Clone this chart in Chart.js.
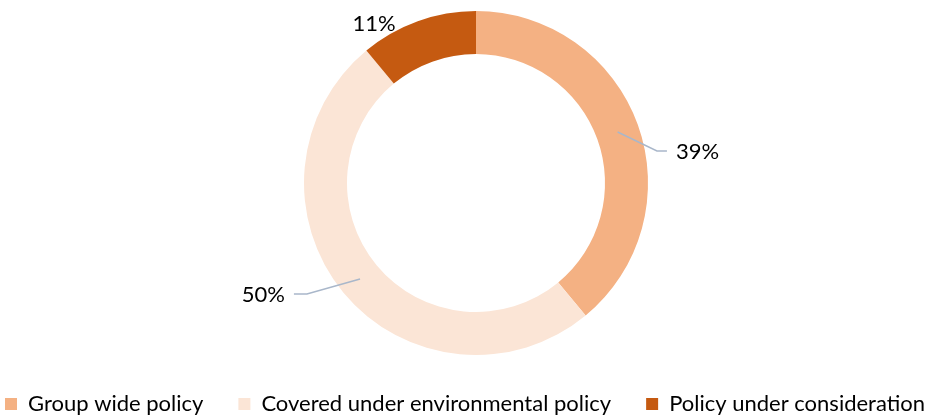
<!DOCTYPE html>
<html>
<head>
<meta charset="utf-8">
<script src="https://cdn.jsdelivr.net/npm/chart.js@4"></script>
<style>
  html, body { margin: 0; padding: 0; background: #fff; }
  #wrap { width: 930px; height: 418px; }
</style>
</head>
<body>
<div id="wrap"><canvas id="chart"></canvas></div>
<script>
// Data
const categories = ['Group wide policy', 'Covered under environmental policy', 'Policy under consideration'];
const shares = [39, 50, 11];
const sliceColors = ['#F4B183', '#FBE5D6', '#C55A11'];

// Label placement, relative to the donut centre in units of outer radius
// elbow: where the leader bends; tail: horizontal run in px (sign = direction)
const labelSpots = [
    { elbow: [1.052, -0.186], tail: 10, leader: true },
    { elbow: [-0.983, 0.645], tail: -13, leader: true },
    { elbow: [-0.593, -0.93], tail: 0, leader: false }
];

const FONT = 'Lato, "Open Sans", sans-serif';

const donutLabels = {
    id: 'donutLabels',
    afterDatasetsDraw(chart) {
        const ctx = chart.ctx;
        const meta = chart.getDatasetMeta(0);
        meta.data.forEach((arc, i) => {
            const p = arc.getProps(['x', 'y', 'startAngle', 'endAngle', 'innerRadius', 'outerRadius'], true);
            const mid = (p.startAngle + p.endAngle) / 2;
            const rMid = (p.innerRadius + p.outerRadius) / 2;
            const spot = labelSpots[i];
            const ex = p.x + spot.elbow[0] * p.outerRadius;
            const ey = p.y + spot.elbow[1] * p.outerRadius;
            ctx.save();
            if (spot.leader) {
                ctx.strokeStyle = '#A9B7CA';
                ctx.lineWidth = 1.5;
                ctx.beginPath();
                ctx.moveTo(p.x + Math.cos(mid) * rMid, p.y + Math.sin(mid) * rMid);
                ctx.lineTo(ex, ey);
                ctx.lineTo(ex + spot.tail, ey);
                ctx.stroke();
            }
            ctx.fillStyle = '#000';
            ctx.font = '22px ' + FONT;
            ctx.textBaseline = 'middle';
            let tx = ex + spot.tail;
            if (spot.tail > 0) { ctx.textAlign = 'left'; tx += 9; }
            else if (spot.tail < 0) { ctx.textAlign = 'right'; tx -= 9; }
            else ctx.textAlign = 'center';
            ctx.fillText(shares[i] + '%', tx, ey + 1);
            ctx.restore();
        });
    }
};

// Legend: one row, fixed height so the ring keeps its size
const legendFit = {
    id: 'legendFit',
    beforeInit(chart) {
        const origFit = chart.legend.fit;
        chart.legend.fit = function () {
            this.maxWidth = 2000;
            origFit.call(this);
            this.width = chart.width;
            this.height = 63;
        };
    },
    afterLayout(chart) {
        const lg = chart.legend;
        lg.left = -100;
        lg.right = chart.width + 100;
        lg.width = lg.right - lg.left;
        lg.top += 3;
        lg.bottom += 3;
    }
};

const ctx = document.getElementById('chart').getContext('2d');
new Chart(ctx, {
    type: 'doughnut',
    data: {
        labels: categories,
        datasets: [{
            data: shares,
            backgroundColor: sliceColors,
            borderWidth: 0,
            hoverOffset: 0
        }]
    },
    options: {
        responsive: true,
        maintainAspectRatio: false,
        animation: false,
        cutout: '75%',
        layout: { padding: { top: 11, left: 22 } },
        plugins: {
            legend: {
                position: 'bottom',
                labels: {
                    boxWidth: 12,
                    boxHeight: 12,
                    padding: 35,
                    color: '#000',
                    font: { family: FONT, size: 22 }
                }
            },
            tooltip: { enabled: false }
        }
    },
    plugins: [legendFit, donutLabels]
});
</script>
</body>
</html>
